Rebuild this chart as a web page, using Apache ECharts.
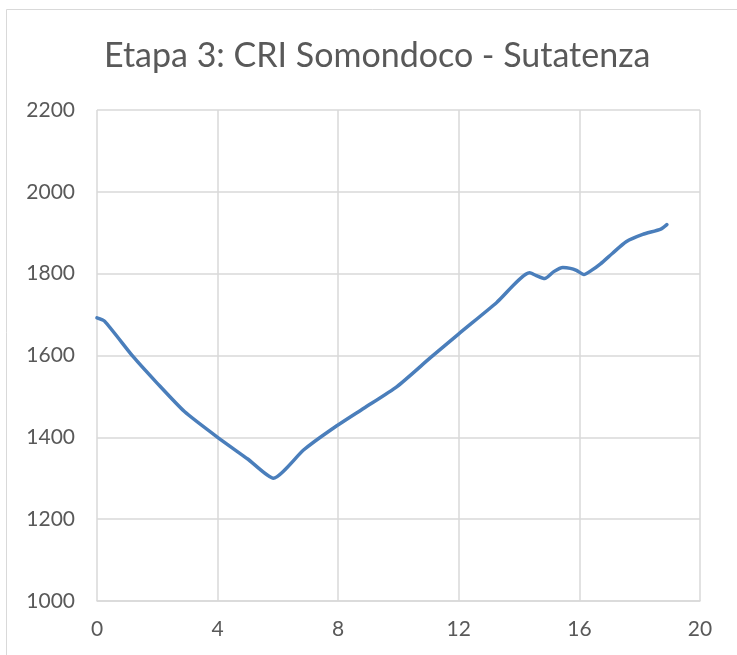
<!DOCTYPE html>
<html>
<head>
<meta charset="utf-8">
<script src="https://cdn.jsdelivr.net/npm/echarts@6/dist/echarts.min.js"></script>
<style>html,body{margin:0;padding:0;background:#fff}#c{width:737px;height:655px}</style>
</head>
<body>
<div id="c"></div>
<script>
const titleText = 'Etapa 3: CRI Somondoco - Sutatenza';
const distanceKm = [0, 0.25, 1.2, 2.0, 2.9, 4.0, 5.0, 5.85, 6.85, 7.75, 8.85, 9.95, 11.05, 12.0, 13.25, 14.35, 14.55, 14.85, 15.15, 15.45, 15.7, 15.9, 16.15, 16.4, 16.7, 17.1, 17.55, 18.1, 18.7, 18.9];
const elevation = [1692, 1684, 1597, 1532, 1463, 1400, 1347, 1300, 1369, 1418, 1471, 1524, 1594, 1653, 1729, 1802, 1796, 1788, 1805, 1815, 1813, 1808, 1798, 1808, 1824, 1850, 1878, 1896, 1909, 1920];
const xTicks = {min: 0, max: 20, interval: 4};
const yTicks = {min: 1000, max: 2200, interval: 200};

const chart = echarts.init(document.getElementById('c'));
chart.setOption({
  animation: false,
  backgroundColor: '#fff',
  textStyle: {fontFamily: 'Lato'},
  graphic: [{
    type: 'rect', shape: {x: 6.5, y: 9.5, width: 800, height: 700},
    style: {fill: 'none', stroke: '#d9d9d9', lineWidth: 1}, silent: true
  }],
  title: {
    text: titleText, left: 99, top: 34,
    textStyle: {fontFamily: 'Lato', fontSize: 34, fontWeight: 'normal', color: '#595959'}
  },
  grid: {left: 97, right: 37, top: 110, bottom: 54, containLabel: false},
  xAxis: {
    type: 'value', min: xTicks.min, max: xTicks.max, interval: xTicks.interval,
    axisLine: {show: true, lineStyle: {color: '#d9d9d9', width: 1.5}},
    axisTick: {show: false},
    axisLabel: {color: '#595959', fontSize: 21, margin: 18, fontFamily: 'Lato'},
    splitLine: {show: true, lineStyle: {color: '#d9d9d9', width: 1.5}}
  },
  yAxis: {
    type: 'value', min: yTicks.min, max: yTicks.max, interval: yTicks.interval,
    axisLine: {show: false},
    axisTick: {show: false},
    axisLabel: {color: '#595959', fontSize: 21, margin: 22, fontFamily: 'Lato', formatter: v => String(v)},
    splitLine: {show: true, lineStyle: {color: '#d9d9d9', width: 1.5}}
  },
  series: [{
    type: 'line',
    data: distanceKm.map((x, i) => [x, elevation[i]]),
    showSymbol: false,
    smooth: 0.2,
    lineStyle: {color: '#4a7ebb', width: 3.5, cap: 'round', join: 'round'}
  }]
});
</script>
</body>
</html>
